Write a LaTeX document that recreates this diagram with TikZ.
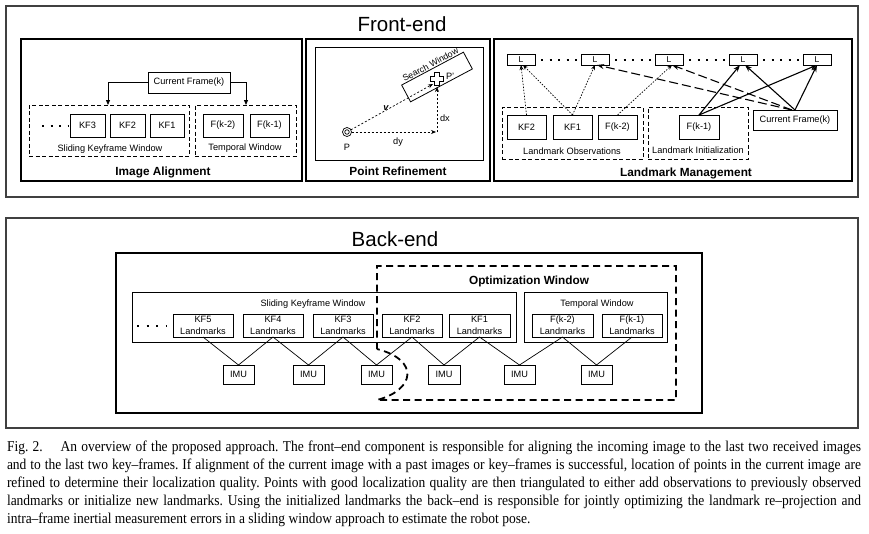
\documentclass[tikz,border=0pt]{standalone}
\usepackage{fontspec}
\setmainfont{Liberation Sans}
\newfontfamily\capfont{Liberation Serif}[FakeStretch=0.9]
\usetikzlibrary{arrows.meta,calc}
\newcommand{\bx}[7][]{\node[#1, minimum width={#4-#2}, minimum height={#5-#3}] (#6) at ({(#2+#4)/2},{(#3+#5)/2}) {#7};}
\tikzset{
 every node/.style={inner sep=0pt, outer sep=0pt},
 frame/.style={draw=black!75, line width=1.3pt},
 panel/.style={draw=black, line width=1.1pt},
 sbox/.style={draw=black, line width=0.8pt, font=\fontsize{9.2}{11}\selectfont},
 lmbox/.style={draw=black, line width=0.8pt, align=center, font=\fontsize{9.2}{12}\selectfont},
 lbox/.style={draw=black, line width=0.8pt, font=\fontsize{8.5}{10}\selectfont},
 dbox/.style={draw=black, line width=0.8pt, dash pattern=on 4pt off 2.5pt},
 lbl/.style={font=\fontsize{9.2}{11}\selectfont, anchor=base},
 ttl/.style={font=\bfseries\fontsize{11.8}{14}\selectfont, anchor=base},
 big/.style={font=\fontsize{20.5}{24}\selectfont, anchor=base},
 dotline/.style={line width=2pt, dash pattern=on 2pt off 6.5pt},
 arr/.style={-{Triangle[length=5pt,width=4pt]}, line width=0.8pt},
 dasharr/.style={-{Stealth[length=5pt,width=4pt]}, line width=0.7pt, dash pattern=on 2pt off 2pt},
 finearr/.style={-{Stealth[length=5pt,width=4pt]}, line width=0.7pt, dash pattern=on 1.5pt off 1.5pt},
 longarr/.style={-{Stealth[length=7pt,width=5pt]}, line width=1.1pt, dash pattern=on 9pt off 4pt},
 solarr/.style={-{Stealth[length=7pt,width=5pt]}, line width=1.1pt},
 optwin/.style={line width=1.8pt, dash pattern=on 7pt off 4.5pt},
 link/.style={line width=0.7pt},
 captxt/.style={font=\capfont\fontsize{15}{18}\selectfont\frenchspacing, anchor=base west}
}
\begin{document}
\begin{tikzpicture}[x=1pt,y=-1pt]
\useasboundingbox (0,0) rectangle (869,533);
% ---------------- Front-end ----------------
\bx[frame]{6}{6}{858}{197}{fe}{}
\node[big] (fet) at (402,31) {Front-end};
\bx[panel]{21}{39}{302}{181}{ia}{}
\bx[panel]{306}{39}{490}{181}{pr}{}
\bx[panel]{494}{39}{852}{181}{lm}{}
% Image alignment
\bx[sbox]{148}{72}{230}{93}{cf}{Current Frame(k)}
\bx[dbox]{29}{105}{189}{156}{skw}{}
\bx[dbox]{195}{105}{296}{156}{tw}{}
\bx[sbox]{70}{114}{105}{137}{kf3}{KF3}
\bx[sbox]{110}{114}{145}{137}{kf2}{KF2}
\bx[sbox]{150}{114}{184}{137}{kf1}{KF1}
\bx[sbox]{203}{114}{243}{137}{fk2}{F(k-2)}
\bx[sbox]{250}{114}{289}{137}{fk1}{F(k-1)}
\node[lbl] (skwl) at (110,151) {Sliding Keyframe Window};
\node[lbl] (twl) at (245,150) {Temporal Window};
\node[ttl] (ial) at (163,175) {Image Alignment};
\coordinate (iad1) at (42,126);
\coordinate (iad2) at (68,126);
\draw[dotline] (iad1) -- (iad2);
\draw[arr] (cf.west) -| ([xshift=79pt]skw.north west);
\draw[arr] (cf.east) -| ([xshift=51pt]tw.north west);
% Point refinement
\bx[sbox]{315}{47}{483}{160}{prin}{}
\node[draw, line width=0.8pt, minimum width=70pt, minimum height=19pt, rotate=28] (sw) at (437,77) {};
\node[font=\fontsize{8.8}{10}\selectfont, rotate=28, anchor=base] (swl) at ($(sw.north)+(-0.6,-1.2)$) {Search Window};
\node[circle, draw, line width=0.7pt, minimum size=9pt] (p) at (347,132) {};
\node[circle, draw, line width=0.7pt, minimum size=4.5pt] (pin) at (347,132) {};
\node[lbl] (pl) at (347,150) {P};
\coordinate (corner) at (437,132);
\coordinate (cr) at (437,79);
\draw[dasharr] (p) -- ([xshift=-1pt]corner);
\draw[dasharr] (corner) -- ($(cr)+(0,8)$);
\draw[dasharr] (p) -- ($(cr)+(-4,5)$);
\draw[line width=0.9pt, fill=white] ($(cr)+(-2.5,-6.5)$) -- ++(5,0) -- ++(0,4) -- ++(4,0) -- ++(0,5) -- ++(-4,0) -- ++(0,4) -- ++(-5,0) -- ++(0,-4) -- ++(-4,0) -- ++(0,-5) -- ++(4,0) -- cycle;
\node[lbl] (dyl) at (398,144) {dy};
\node[lbl, anchor=base west] (dxl) at (440,121) {dx};
\node[lbl, font=\bfseries\itshape\fontsize{9.2}{11}\selectfont] (vl) at (386,110) {v};
\node[lbl, anchor=base west] (ppl) at (446,79) {P'};
\node[ttl] (prl) at (398,175) {Point Refinement};
% Landmark management
\bx[lbox]{507}{54}{535}{65}{l1}{L}
\bx[lbox]{581}{54}{609}{65}{l2}{L}
\bx[lbox]{655}{54}{683}{65}{l3}{L}
\bx[lbox]{729}{54}{757}{65}{l4}{L}
\bx[lbox]{803}{54}{831}{65}{l5}{L}
\draw[dotline] ([xshift=6pt]l1.east) -- ([xshift=-3pt]l2.west);
\draw[dotline] ([xshift=6pt]l2.east) -- ([xshift=-3pt]l3.west);
\draw[dotline] ([xshift=6pt]l3.east) -- ([xshift=-3pt]l4.west);
\draw[dotline] ([xshift=6pt]l4.east) -- ([xshift=-3pt]l5.west);
\bx[dbox]{502}{107}{643}{159}{lo}{}
\bx[dbox]{648}{107}{748}{159}{li}{}
\bx[sbox]{507}{115}{546}{139}{lkf2}{KF2}
\bx[sbox]{553}{115}{592}{139}{lkf1}{KF1}
\bx[sbox]{598}{115}{637}{139}{lfk2}{F(k-2)}
\bx[sbox]{679}{115}{719}{139}{lfk1}{F(k-1)}
\bx[sbox]{753}{110}{837}{130}{lcf}{Current Frame(k)}
\node[lbl] (lol) at (572,154) {Landmark Observations};
\node[lbl] (lil) at (698,153) {Landmark Initialization};
\node[ttl] (lml) at (686,176) {Landmark Management};
\draw[finearr] (lkf2.north) -- (l1.south);
\draw[finearr] (lkf1.north) -- ([xshift=2pt]l1.south);
\draw[finearr] (lkf1.north) -- (l2.south);
\draw[finearr] (lfk2.north) -- ([xshift=3pt]l3.south);
\draw[longarr] ([xshift=-3pt]lcf.north) -- ([xshift=2pt]l2.south);
\draw[longarr] ([xshift=-3pt]lcf.north) -- ([xshift=3pt]l3.south);
\draw[solarr] (lcf.north) -- ([xshift=2pt]l4.south);
\draw[solarr] (lcf.north) -- (l5.south);
\draw[solarr] (lfk1.north) -- ([xshift=-3pt]l4.south);
\draw[solarr] (lfk1.north) -- (l5.south);
% ---------------- Back-end ----------------
\bx[frame]{6}{218}{858}{428}{be}{}
\node[big] (bet) at (395,246) {Back-end};
\bx[panel]{116}{253}{702}{413}{bein}{}
\bx[sbox]{132}{292}{516}{342}{bskw}{}
\bx[sbox]{524}{292}{667}{342}{btw}{}
\node[lbl] (bskwl) at (313,306) {Sliding Keyframe Window};
\node[lbl] (btwl) at (597,306) {Temporal Window};
\coordinate (bd1) at (137,326);
\coordinate (bd2) at (167,326);
\draw[line width=2pt, dash pattern=on 2pt off 7.6pt] (bd1) -- (bd2);
\bx[lmbox]{173}{314}{233}{337}{b5}{KF5\\Landmarks}
\bx[lmbox]{243}{314}{303}{337}{b4}{KF4\\Landmarks}
\bx[lmbox]{313}{314}{373}{337}{b3}{KF3\\Landmarks}
\bx[lmbox]{382}{314}{442}{337}{b2}{KF2\\Landmarks}
\bx[lmbox]{449}{314}{510}{337}{b1}{KF1\\Landmarks}
\bx[lmbox]{532}{314}{593}{337}{bt2}{F(k-2)\\Landmarks}
\bx[lmbox]{602}{314}{662}{337}{bt1}{F(k-1)\\Landmarks}
\bx[sbox]{223}{365}{254}{384}{i1}{IMU}
\bx[sbox]{293}{365}{324}{384}{i2}{IMU}
\bx[sbox]{361}{365}{392}{384}{i3}{IMU}
\bx[sbox]{428}{365}{460}{384}{i4}{IMU}
\bx[sbox]{504}{365}{535}{384}{i5}{IMU}
\bx[sbox]{581}{365}{612}{384}{i6}{IMU}
\draw[link] (b5.south) -- (i1.north) -- (b4.south) -- (i2.north) -- (b3.south) -- (i3.north) -- (b2.south) -- (i4.north) -- (b1.south) -- (i5.north) -- (bt2.south) -- (i6.north) -- (bt1.south);
\coordinate (ow1) at (377,349);
\coordinate (ow2) at (377,266);
\coordinate (ow3) at (676,266);
\coordinate (ow4) at (676,400);
\coordinate (ow5) at (377,400);
\draw[optwin] (ow1) -- (ow2) -- (ow3) -- (ow4) -- (ow5) .. controls (415,390) and (420,360) .. (ow1);
\node[ttl] (owl) at (529,284) {Optimization Window};
% ---------------- Caption ----------------
\node[captxt] (c1) at (7,451) {\makebox[854pt][s]{Fig. 2.\hspace{0.9em} An overview of the proposed approach. The front–end component is responsible for aligning the incoming image to the last two received images}};
\node[captxt] (c2) at (7,469) {\makebox[854pt][s]{and to the last two key–frames. If alignment of the current image with a past images or key–frames is successful, location of points in the current image are}};
\node[captxt] (c3) at (7,487) {\makebox[854pt][s]{refined to determine their localization quality. Points with good localization quality are then triangulated to either add observations to previously observed}};
\node[captxt] (c4) at (7,505) {\makebox[854pt][s]{landmarks or initialize new landmarks. Using the initialized landmarks the back–end is responsible for jointly optimizing the landmark re–projection and}};
\node[captxt] (c5) at (7,523) {intra–frame inertial measurement errors in a sliding window approach to estimate the robot pose.};
\end{tikzpicture}
\end{document}
